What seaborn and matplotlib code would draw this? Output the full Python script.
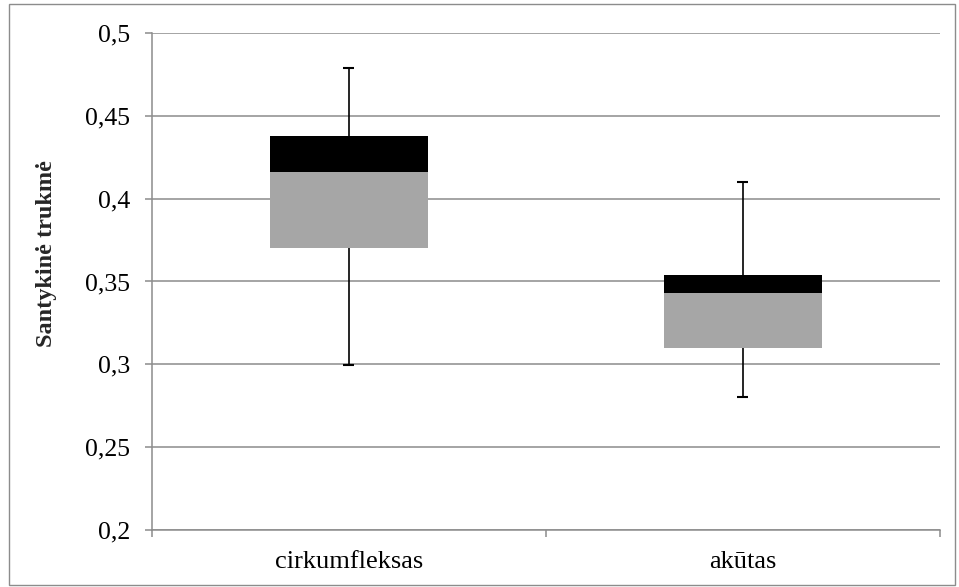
import numpy as np
import pandas as pd
import matplotlib
matplotlib.use("Agg")
import matplotlib.pyplot as plt
from matplotlib.ticker import FuncFormatter, MultipleLocator
from matplotlib.patches import Rectangle
import seaborn as sns

# data
categories = ["cirkumfleksas", "akūtas"]
mins = [0.2995, 0.280]
q1 = [0.3705, 0.310]
medians = [0.416, 0.343]
q3 = [0.438, 0.354]
maxs = [0.479, 0.410]

df = pd.DataFrame({"kat": categories, "min": mins, "q1": q1,
                   "med": medians, "q3": q3, "max": maxs})
df["low_part"] = df["med"] - df["q1"]
df["high_part"] = df["q3"] - df["med"]

sns.set_theme(style="white")
plt.rcParams["font.family"] = ["Liberation Serif", "DejaVu Serif"]

fig = plt.figure(figsize=(9.59, 5.87), dpi=100)
ax = fig.add_axes([0.1585, 0.0971, 0.8215, 0.8467])

GRID = "#8c8c8c"
ax.set_axisbelow(True)
ax.yaxis.grid(True, color=GRID, linewidth=1.1)

# stacked bars: gray from Q1 to median, black from median to Q3
sns.barplot(data=df, x="kat", y="low_part", bottom=df["q1"].values,
            color="#a6a6a6", width=0.4, linewidth=0, saturation=1, ax=ax)
sns.barplot(data=df, x="kat", y="high_part", bottom=df["med"].values,
            color="#000000", width=0.4, linewidth=0, saturation=1, ax=ax)

# whiskers
xs = np.arange(len(categories))
ax.vlines(xs, df["q3"], df["max"], color="black", linewidth=1.2)
ax.vlines(xs, df["min"], df["q1"], color="black", linewidth=1.2)
ax.hlines(df["max"], xs - 0.014, xs + 0.014, color="black", linewidth=1.5)
ax.hlines(df["min"], xs - 0.014, xs + 0.014, color="black", linewidth=1.5)

ax.set_ylim(0.2, 0.5)
ax.set_xlim(-0.5, 1.5)
ax.yaxis.set_major_locator(MultipleLocator(0.05))
ax.yaxis.set_major_formatter(FuncFormatter(lambda v, p: f"{v:.2f}".rstrip("0").replace(".", ",")))

ax.set_xticks(xs)
ax.set_xticklabels(categories)
ax.set_xticks([-0.5, 0.5, 1.5], minor=True)
ax.tick_params(axis="x", which="major", length=0, labelsize=19, pad=15, colors="black")
ax.tick_params(axis="x", which="minor", length=5, width=1.1, color=GRID, direction="out", bottom=True)
ax.tick_params(axis="y", length=5, width=1.1, color=GRID, direction="out", left=True,
               labelsize=18.5, pad=11, labelcolor="black")

for s in ["top", "right"]:
    ax.spines[s].set_visible(False)
for s in ["left", "bottom"]:
    ax.spines[s].set_color(GRID)
    ax.spines[s].set_linewidth(1.1)

ax.set_xlabel("")
ax.set_ylabel("Santykinė trukmė", fontsize=17.5, fontweight="bold")
ax.yaxis.set_label_coords(-0.12, 0.556)

fig.patches.append(Rectangle((0.009, 0.004), 0.987, 0.99, transform=fig.transFigure,
                             fill=False, edgecolor="#8c8c8c", linewidth=1.0))

fig.savefig("out.png", dpi=100)
